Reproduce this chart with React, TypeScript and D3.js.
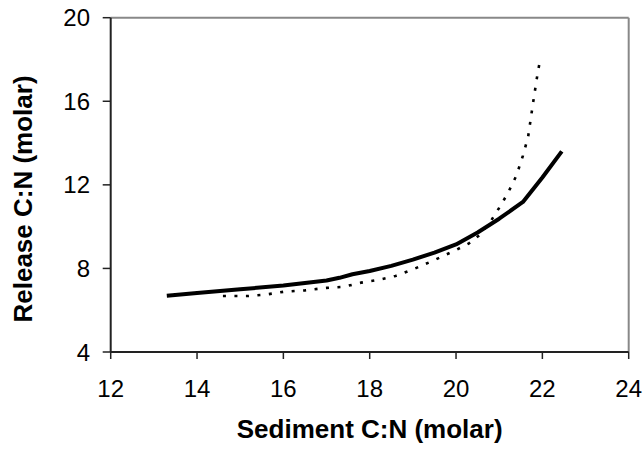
import React from "react";
import * as d3 from "d3";

// Solid line (thick)
const solidSediment = [13.3, 14.0, 15.0, 16.0, 17.0, 17.3, 17.6, 18.0, 18.5, 19.0, 19.5, 20.0, 20.5, 21.0, 21.55, 22.0, 22.45];
const solidRelease = [6.69, 6.82, 7.0, 7.18, 7.42, 7.55, 7.72, 7.88, 8.12, 8.42, 8.76, 9.15, 9.72, 10.38, 11.18, 12.35, 13.6];

// Dotted line
const dotSediment = [14.6, 15.2, 15.6, 16.0, 16.5, 17.0, 17.4, 17.8, 18.2, 18.6, 19.0, 19.5, 20.0, 20.3, 20.55, 20.8, 21.0, 21.2, 21.4, 21.55, 21.67, 21.79, 21.88, 21.94];
const dotRelease = [6.68, 6.68, 6.75, 6.88, 6.95, 7.07, 7.12, 7.32, 7.45, 7.64, 7.95, 8.4, 8.88, 9.2, 9.6, 10.25, 10.9, 11.6, 12.45, 13.4, 14.3, 16.0, 17.2, 17.9];

const xTicks = [12, 14, 16, 18, 20, 22, 24];
const yTicks = [4, 8, 12, 16, 20];

const xTitle = "Sediment C:N (molar)";
const yTitle = "Release C:N (molar)";

const W = 644;
const H = 449;
const FONT = "'Liberation Sans', Arial, sans-serif";

export default function App() {
  const x = d3.scaleLinear().domain([12, 24]).range([110.7, 628.7]);
  const y = d3.scaleLinear().domain([4, 20]).range([352, 17.7]);
  const line = d3
    .line<[number, number]>()
    .x((d) => x(d[0]))
    .y((d) => y(d[1]))
    .curve(d3.curveLinear);

  const solid: [number, number][] = solidSediment.map((s, i) => [s, solidRelease[i]]);
  const dotted: [number, number][] = dotSediment.map((s, i) => [s, dotRelease[i]]);

  const [x0, x1] = x.range();
  const [y0, y1] = y.range();

  return (
    <svg
      width={W}
      height={H}
      style={{ position: "absolute", left: 0, top: 0, display: "block", background: "#fff" }}
    >
      {/* plot frame top/right */}
      <line x1={x0} x2={x1} y1={y1} y2={y1} stroke="#888" strokeWidth={2} />
      <line x1={x1} x2={x1} y1={y1} y2={y0} stroke="#888" strokeWidth={2} />

      {/* data lines */}
      <path d={line(dotted) || ""} fill="none" stroke="#000" strokeWidth={2.6} strokeDasharray="3,8.5" />
      <path d={line(solid) || ""} fill="none" stroke="#000" strokeWidth={4} strokeLinejoin="round" />

      {/* axes */}
      <line x1={x0} x2={x1} y1={y0} y2={y0} stroke="#222" strokeWidth={2} />
      <line x1={x0} x2={x0} y1={y1} y2={y0} stroke="#222" strokeWidth={2} />

      {xTicks.map((t) => (
        <g key={"x" + t}>
          <line x1={x(t)} x2={x(t)} y1={y0} y2={y0 + 7} stroke="#222" strokeWidth={1.5} />
          <text x={x(t)} y={397} textAnchor="middle" fontFamily={FONT} fontSize={24} fill="#000">
            {t}
          </text>
        </g>
      ))}
      {yTicks.map((t) => (
        <g key={"y" + t}>
          <line x1={x0 - 8} x2={x0} y1={y(t)} y2={y(t)} stroke="#222" strokeWidth={1.5} />
          <text
            x={90}
            y={y(t) + 8.5}
            textAnchor="end"
            fontFamily={FONT}
            fontSize={24}
            fill="#000"
          >
            {t}
          </text>
        </g>
      ))}

      <text
        x={(x0 + x1) / 2}
        y={438}
        textAnchor="middle"
        fontFamily={FONT}
        fontSize={26}
        fontWeight="bold"
        fill="#000"
      >
        {xTitle}
      </text>
      <text
        transform={`translate(32,199) rotate(-90)`}
        textAnchor="middle"
        fontFamily={FONT}
        fontSize={26}
        fontWeight="bold"
        fill="#000"
      >
        {yTitle}
      </text>
    </svg>
  );
}
